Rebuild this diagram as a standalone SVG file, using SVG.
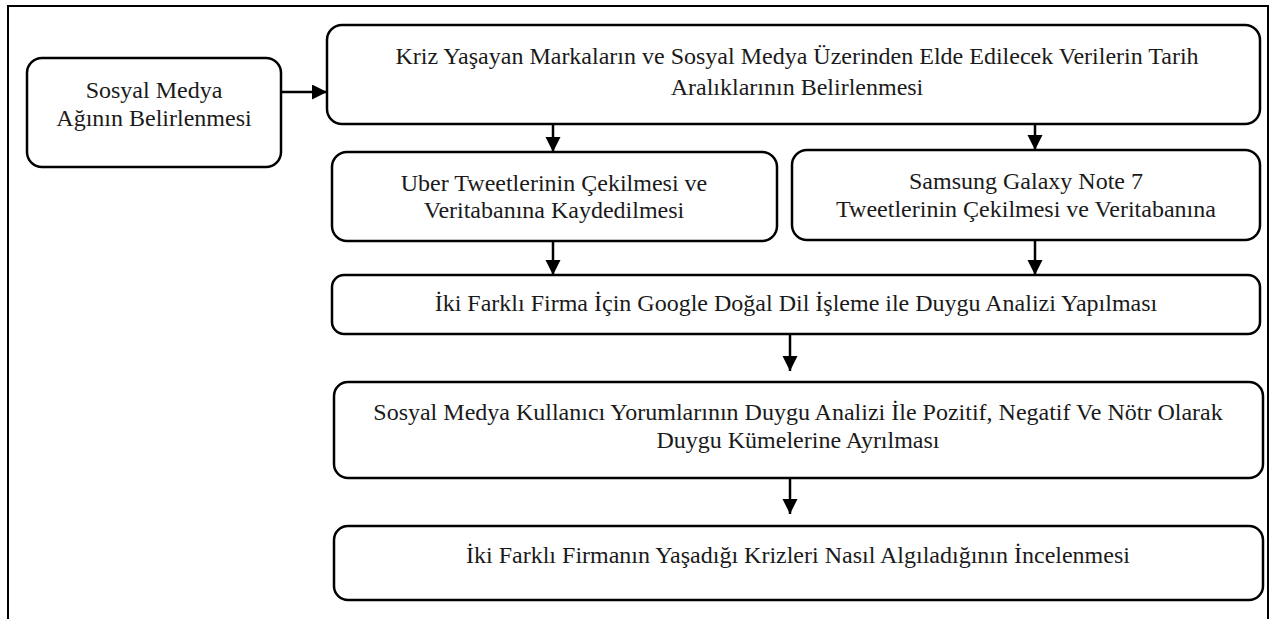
<svg xmlns="http://www.w3.org/2000/svg" width="1274" height="619" viewBox="0 0 1274 619">
<defs>
<style>
.box{fill:#fff;stroke:#000;stroke-width:2.5}
.t{font-family:"Liberation Serif","Times New Roman",serif;font-size:24px;fill:#1a1a1a;text-anchor:middle}
.c{stroke:#000;stroke-width:2.5;fill:none;marker-end:url(#ah)}
</style>
<marker id="ah" markerUnits="userSpaceOnUse" markerWidth="16" markerHeight="16" refX="15" refY="7.5" orient="auto">
<path d="M0,0 L15,7.5 L0,15 z" fill="#000"/>
</marker>
</defs>
<rect x="0" y="0" width="1274" height="619" fill="#fff"/>
<rect id="frame" x="8" y="6" width="1260" height="640" fill="none" stroke="#000" stroke-width="2"/>
<g id="n1"><rect class="box" x="27" y="58" width="254" height="109" rx="15"/>
<text class="t" x="154" y="98">Sosyal Medya</text><text class="t" x="154" y="126">Ağının Belirlenmesi</text></g>
<g id="n2"><rect class="box" x="327" y="25" width="933" height="99" rx="15"/>
<text class="t" x="797" y="64">Kriz Yaşayan Markaların ve Sosyal Medya Üzerinden Elde Edilecek Verilerin Tarih</text>
<text class="t" x="797" y="95">Aralıklarının Belirlenmesi</text></g>
<g id="n3"><rect class="box" x="332" y="152" width="445" height="89" rx="15"/>
<text class="t" x="554" y="191">Uber Tweetlerinin Çekilmesi ve</text><text class="t" x="554" y="218">Veritabanına Kaydedilmesi</text></g>
<g id="n4"><rect class="box" x="792" y="150" width="468" height="90" rx="15"/>
<text class="t" x="1026" y="189">Samsung Galaxy Note 7</text><text class="t" x="1026" y="217">Tweetlerinin Çekilmesi ve Veritabanına</text></g>
<g id="n5"><rect class="box" x="332" y="275" width="928" height="59" rx="12"/>
<text class="t" x="796" y="311">İki Farklı Firma İçin Google Doğal Dil İşleme ile Duygu Analizi Yapılması</text></g>
<g id="n6"><rect class="box" x="334" y="382" width="929" height="96" rx="14"/>
<text class="t" x="798" y="420">Sosyal Medya Kullanıcı Yorumlarının Duygu Analizi İle Pozitif, Negatif Ve Nötr Olarak</text>
<text class="t" x="798" y="448">Duygu Kümelerine Ayrılması</text></g>
<g id="n7"><rect class="box" x="334" y="526" width="929" height="74" rx="14"/>
<text class="t" x="798" y="563">İki Farklı Firmanın Yaşadığı Krizleri Nasıl Algıladığının İncelenmesi</text></g>
<g id="connectors">
<line class="c" x1="282" y1="92" x2="327" y2="92"/>
<line class="c" x1="553" y1="124" x2="553" y2="152"/>
<line class="c" x1="1035" y1="124" x2="1035" y2="150"/>
<line class="c" x1="553" y1="241" x2="553" y2="275"/>
<line class="c" x1="1035" y1="240" x2="1035" y2="275"/>
<line class="c" x1="790" y1="334" x2="790" y2="371"/>
<line class="c" x1="790" y1="478" x2="790" y2="514"/>
</g>
</svg>
